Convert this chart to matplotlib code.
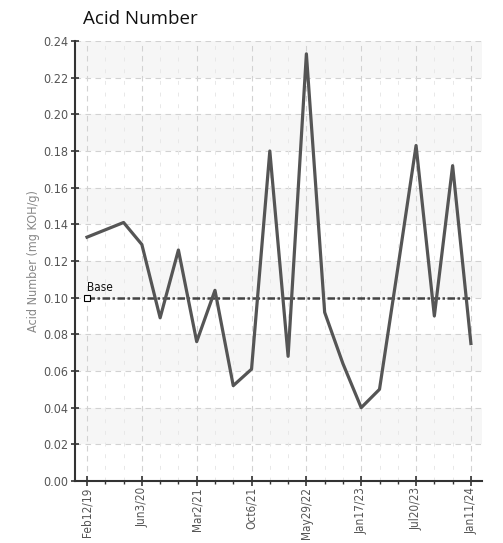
import matplotlib
matplotlib.use("Agg")
import matplotlib.pyplot as plt
from matplotlib.ticker import FixedLocator
from matplotlib import font_manager

title = "Acid Number"
ylabel = "Acid Number (mg KOH/g)"
tick_labels = ["Feb12/19", "Jun3/20", "Mar2/21", "Oct6/21", "May29/22",
               "Jan17/23", "Jul20/23", "Jan11/24"]
values = [0.133, 0.137, 0.141, 0.129, 0.089, 0.126, 0.076, 0.104, 0.052, 0.061,
          0.180, 0.068, 0.233, 0.092, 0.064, 0.040, 0.050, 0.116, 0.183, 0.090,
          0.172, 0.075]
base_value = 0.10
base_label = "Base"
yticks = [0.00, 0.02, 0.04, 0.06, 0.08, 0.10, 0.12, 0.14, 0.16, 0.18, 0.20, 0.22, 0.24]

cond_path = None
for f in font_manager.fontManager.ttflist:
    if f.name == "DejaVu Sans" and "Condensed" in f.fname and "Bold" not in f.fname and "Oblique" not in f.fname:
        cond_path = f.fname
        break
if cond_path:
    cfont = lambda size: font_manager.FontProperties(fname=cond_path, size=size)
else:
    cfont = lambda size: font_manager.FontProperties(family="DejaVu Sans", stretch="condensed", size=size)

fig = plt.figure(figsize=(5.03, 5.43), dpi=100)
ax = fig.add_axes([0.149, 0.1142, 0.809, 0.8103])

n = len(values)
xs = list(range(n))
ax.set_xlim(-0.66, n - 1 + 0.6)
ax.set_ylim(0, 0.24)

for k in range(len(yticks) - 1):
    if k % 2 == 1:
        ax.axhspan(yticks[k], yticks[k + 1], color="#f6f6f6", zorder=0, lw=0)

for y in yticks[1:]:
    ax.axhline(y, color="#d2d2d2", lw=0.8, ls=(0, (5, 4)), zorder=1)
major_x = xs[::3]
for i in xs:
    if i in major_x:
        ax.axvline(i, color="#d2d2d2", lw=0.8, ls=(0, (5, 4)), zorder=1)
    else:
        ax.axvline(i, color="#e8e8e8", lw=0.7, ls=(0, (4, 8)), zorder=1)

ax.plot([xs[0], xs[-1]], [base_value, base_value], color="#444444", lw=1.8,
        ls=(0, (3, 1, 1, 1)), zorder=2)
ax.plot([xs[0]], [base_value], marker="s", ms=4, mfc="white", mec="black", mew=0.8, zorder=4)
ax.text(xs[0], base_value + 0.002, base_label, fontproperties=cfont(8.5),
        color="#111111", ha="left", va="bottom", zorder=4)

ax.plot(xs, values, color="#555555", lw=2.3, zorder=3)

ax.set_xticks(major_x)
ax.set_xticklabels(tick_labels, rotation=90)
for t in ax.get_xticklabels():
    t.set_fontproperties(cfont(8.5))
    t.set_color("#555555")
ax.xaxis.set_minor_locator(FixedLocator(xs))
ax.set_yticks(yticks)
ax.set_yticklabels([f"{v:.2f}" for v in yticks])
for t in ax.get_yticklabels():
    t.set_fontproperties(cfont(9))
    t.set_color("#555555")
ax.tick_params(axis="both", which="major", width=1.2, color="#333333", pad=2)
ax.tick_params(axis="x", which="major", pad=1)
ax.tick_params(axis="x", which="minor", length=2.5, width=1, color="#333333")
ax.tick_params(axis="y", which="major", direction="inout", length=6)
ax.tick_params(axis="x", which="major", direction="inout", length=7)

for s in ["top", "right"]:
    ax.spines[s].set_visible(False)
for s in ["left", "bottom"]:
    ax.spines[s].set_color("#333333")
    ax.spines[s].set_linewidth(1.5)

ax.set_ylabel(ylabel, fontproperties=cfont(9), color="#888888", labelpad=2)

fig.text(83 / 503, 1 - 19 / 543, title, fontsize=13.5, family=["Open Sans", "DejaVu Sans"],
         color="#111111", ha="left", va="center")

fig.savefig("out.png", dpi=100, facecolor="white")
